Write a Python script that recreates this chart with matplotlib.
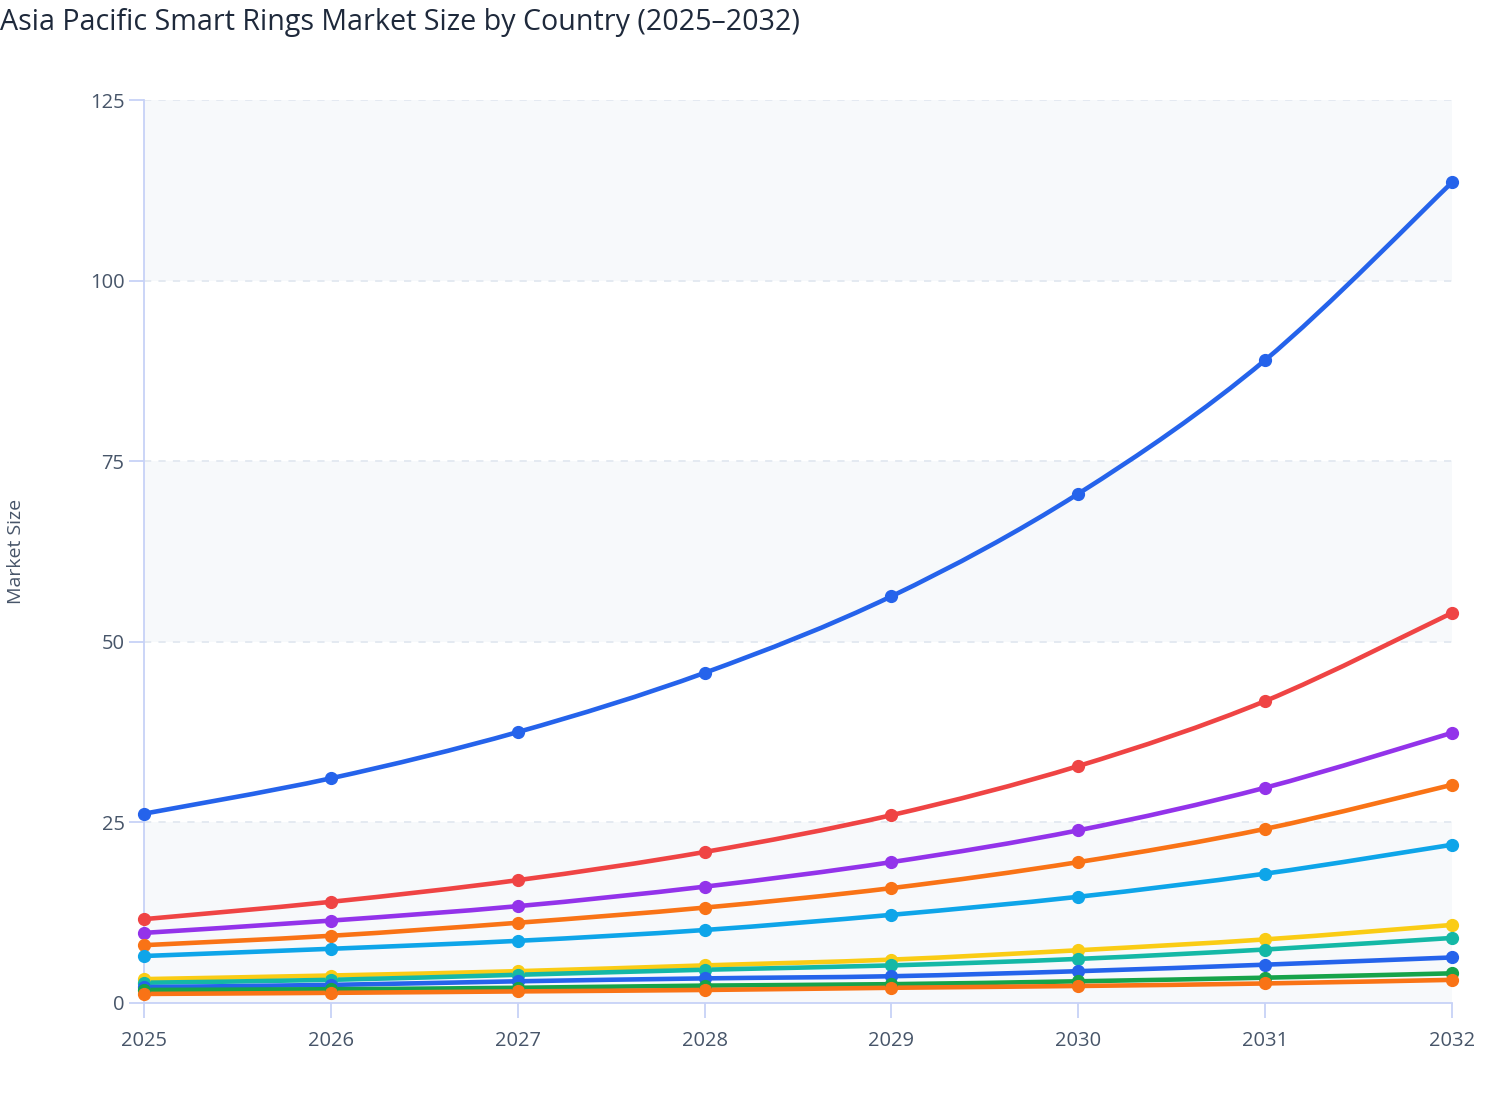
import numpy as np
import matplotlib
matplotlib.use('Agg')
import matplotlib.pyplot as plt
from matplotlib.path import Path
from matplotlib.patches import PathPatch

plt.rcParams['font.family'] = ['Open Sans', 'DejaVu Sans']

years = [2025, 2026, 2027, 2028, 2029, 2030, 2031, 2032]

china = [26.2, 31.1, 37.5, 45.7, 56.3, 70.5, 89.0, 113.6]
japan = [11.6, 14.0, 17.0, 20.9, 26.0, 32.8, 41.8, 54.0]
india = [9.7, 11.4, 13.4, 16.1, 19.5, 23.9, 29.8, 37.4]
south_korea = [8.0, 9.3, 11.1, 13.2, 15.9, 19.5, 24.1, 30.2]
australia = [6.5, 7.5, 8.6, 10.1, 12.2, 14.7, 17.9, 21.9]
indonesia = [3.3, 3.8, 4.4, 5.2, 6.0, 7.3, 8.8, 10.8]
singapore = [2.8, 3.2, 3.9, 4.6, 5.2, 6.1, 7.4, 9.0]
thailand = [2.2, 2.5, 3.0, 3.4, 3.7, 4.4, 5.3, 6.3]
malaysia = [1.8, 1.9, 2.1, 2.4, 2.6, 3.0, 3.5, 4.1]
rest_apac = [1.25, 1.4, 1.6, 1.8, 2.1, 2.35, 2.7, 3.2]

series = [china, japan, india, south_korea, australia,
          indonesia, singapore, thailand, malaysia, rest_apac]
colors = ['#2563eb', '#ef4444', '#9333ea', '#f97316', '#0ea5e9',
          '#facc15', '#14b8a6', '#2563eb', '#16a34a', '#f97316']

y_ticks = [0, 25, 50, 75, 100, 125]


def spline_path(xs, ys):
    # catmull-rom style bezier through the points (like plotly's spline)
    pts = np.column_stack([xs, ys]).astype(float)
    n = len(pts)
    verts = [pts[0]]
    codes = [Path.MOVETO]
    for i in range(n - 1):
        p0 = pts[i - 1] if i > 0 else pts[i]
        p3 = pts[i + 2] if i + 2 < n else pts[i + 1]
        c1 = pts[i] + (pts[i + 1] - p0) / 6
        c2 = pts[i + 1] - (p3 - pts[i]) / 6
        verts += [c1, c2, pts[i + 1]]
        codes += [Path.CURVE4] * 3
    return Path(verts, codes)


fig = plt.figure(figsize=(15.08, 11.2), dpi=100)
ax = fig.add_axes([0.0955, 0.1045, 0.8674, 0.8062])
ax.set_facecolor('white')

# alternating bands
for lo in (0, 50, 100):
    ax.axhspan(lo, lo + 25, facecolor='#f7f9fb', zorder=0, lw=0)

for t in y_ticks[1:]:
    ax.axhline(t, color='#e2e8f0', lw=1.3, ls=(0, (4, 4)), zorder=1)

for vals, c in zip(series, colors):
    ax.add_patch(PathPatch(spline_path(years, vals), fill=False, edgecolor=c,
                           lw=3.3, capstyle='round', joinstyle='round', zorder=3))
    ax.plot(years, vals, 'o', color=c, ms=8.5, zorder=4, clip_on=False)

ax.set_xlim(2025, 2032)
ax.set_ylim(0, 125)
ax.set_xticks(years)
ax.set_yticks(y_ticks)

for s in ('top', 'right'):
    ax.spines[s].set_visible(False)
for s in ('left', 'bottom'):
    ax.spines[s].set_color('#c7d2f7')
    ax.spines[s].set_linewidth(1.3)

ax.tick_params(axis='both', colors='#c7d2f7', length=11, width=1.3,
               labelcolor='#475569', labelsize=14.5)
ax.tick_params(axis='x', pad=9)
ax.tick_params(axis='y', pad=3)

ax.set_ylabel('Market Size', fontsize=14, color='#475569', labelpad=0)
ax.yaxis.set_label_coords(-0.091, 0.5)

fig.text(0.0, 0.993, 'Asia Pacific Smart Rings Market Size by Country (2025\u20132032)',
         fontsize=20.6, color='#1e293b', ha='left', va='top', fontweight='medium')

fig.savefig('out.png', dpi=100)
